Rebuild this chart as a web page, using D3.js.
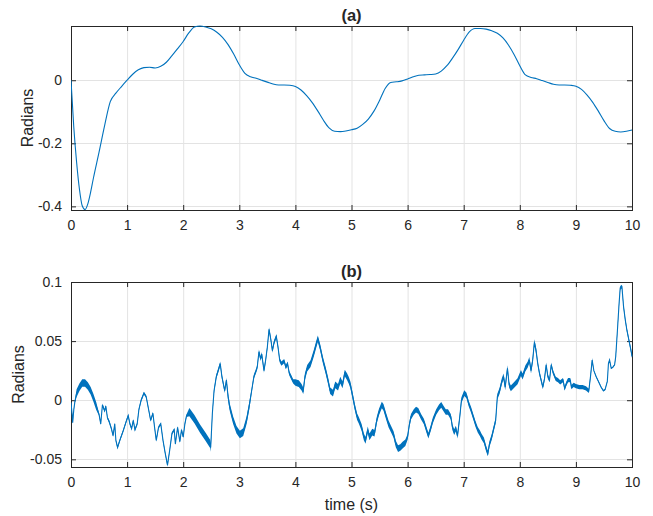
<!DOCTYPE html>
<html><head><meta charset="utf-8">
<script src="https://cdn.jsdelivr.net/npm/d3@7"></script>
<style>
html,body{margin:0;padding:0;background:#fff;}
svg text{font-family:"Liberation Sans",Arial,Helvetica,sans-serif;fill:#262626;}
</style></head>
<body><svg id="c" width="653" height="516"></svg>
<script>
// ---- data ----
const xTicks = [0,1,2,3,4,5,6,7,8,9,10];
const topYTicks = [-0.4,-0.2,0];
const topYTickLabels = ["-0.4","-0.2","0"];
const botYTicks = [-0.05,0,0.05,0.1];
const botYTickLabels = ["-0.05","0","0.05","0.1"];
const titles = ["(a)","(b)"];
const yLabel = "Radians";
const xLabel = "time (s)";

// panel (a): smooth angle
const topT = [0,0.05,0.1,0.15,0.2,0.25,0.3,0.35,0.4,0.5,0.6,0.7,0.8,0.9,1.0,1.1,1.2,1.3,1.4,1.5,1.6,1.7,1.8,1.9,2.0,2.1,2.2,2.3,2.4,2.5,2.6,2.7,2.8,2.9,3.0,3.1,3.2,3.3,3.4,3.5,3.6,3.7,3.8,3.9,4.0,4.1,4.2,4.3,4.4,4.5,4.6,4.7,4.8,4.9,5.0,5.1,5.2,5.3,5.4,5.5,5.6,5.7,5.8,5.9,6.0,6.1,6.2,6.3,6.4,6.5,6.6,6.7,6.8,6.9,7.0,7.1,7.2,7.3,7.4,7.5,7.6,7.7,7.8,7.9,8.0,8.1,8.2,8.3,8.4,8.5,8.6,8.7,8.8,8.9,9.0,9.1,9.2,9.3,9.4,9.5,9.6,9.7,9.8,9.9,10.0];
const topV = [0,-0.15,-0.26,-0.345,-0.398,-0.41,-0.392,-0.355,-0.31,-0.228,-0.143,-0.068,-0.041,-0.02,0,0.019,0.033,0.04,0.041,0.039,0.044,0.057,0.078,0.1,0.123,0.15,0.169,0.172,0.169,0.163,0.152,0.136,0.113,0.083,0.049,0.022,0.011,0.006,0,-0.006,-0.012,-0.015,-0.015,-0.016,-0.02,-0.031,-0.049,-0.071,-0.098,-0.127,-0.151,-0.162,-0.163,-0.161,-0.157,-0.152,-0.14,-0.123,-0.098,-0.064,-0.026,-0.007,-0.005,-0.002,0.004,0.011,0.016,0.017,0.018,0.02,0.029,0.046,0.07,0.097,0.127,0.153,0.164,0.164,0.162,0.157,0.149,0.134,0.111,0.081,0.046,0.017,0.009,0.005,-0.001,-0.007,-0.013,-0.015,-0.015,-0.016,-0.019,-0.029,-0.047,-0.07,-0.098,-0.128,-0.153,-0.162,-0.164,-0.162,-0.158];

// panel (b): noisy angle error
const botT = [0,0.02,0.03,0.05,0.07,0.1,0.15,0.2,0.25,0.3,0.35,0.4,0.45,0.5,0.53,0.56,0.6,0.62,0.65,0.68,0.72,0.75,0.78,0.8,0.83,0.87,0.93,0.99,1.02,1.05,1.08,1.11,1.14,1.18,1.21,1.25,1.3,1.34,1.38,1.42,1.46,1.49,1.52,1.56,1.6,1.64,1.68,1.72,1.76,1.8,1.84,1.86,1.9,1.94,1.97,2.0,2.03,2.06,2.11,2.2,2.3,2.4,2.48,2.49,2.52,2.55,2.59,2.63,2.66,2.69,2.74,2.77,2.8,2.83,2.89,2.95,3.01,3.07,3.13,3.18,3.22,3.26,3.3,3.32,3.35,3.38,3.4,3.44,3.47,3.5,3.53,3.56,3.59,3.62,3.66,3.69,3.72,3.75,3.8,3.83,3.86,3.89,3.93,3.96,4.0,4.06,4.11,4.14,4.17,4.21,4.27,4.33,4.37,4.4,4.44,4.49,4.54,4.58,4.62,4.67,4.71,4.76,4.8,4.84,4.88,4.92,4.95,4.98,5.01,5.06,5.1,5.13,5.18,5.22,5.25,5.29,5.32,5.37,5.41,5.45,5.49,5.54,5.57,5.62,5.66,5.71,5.75,5.79,5.83,5.87,5.91,5.96,6.0,6.03,6.06,6.11,6.15,6.19,6.24,6.29,6.33,6.37,6.41,6.45,6.51,6.56,6.6,6.64,6.68,6.72,6.77,6.8,6.83,6.86,6.89,6.93,6.96,7.01,7.05,7.09,7.13,7.17,7.21,7.25,7.29,7.32,7.36,7.4,7.43,7.46,7.5,7.53,7.57,7.6,7.64,7.68,7.71,7.74,7.78,7.81,7.84,7.9,7.96,8.02,8.05,8.1,8.14,8.17,8.2,8.23,8.26,8.29,8.32,8.35,8.38,8.41,8.44,8.47,8.5,8.53,8.56,8.59,8.64,8.68,8.72,8.77,8.8,8.83,8.86,8.9,8.92,8.96,9.0,9.06,9.12,9.18,9.23,9.26,9.29,9.32,9.36,9.4,9.45,9.49,9.52,9.56,9.58,9.6,9.63,9.66,9.69,9.71,9.74,9.77,9.79,9.82,9.85,9.88,9.91,9.94,9.97,9.99,10.0];
const botV = [-0.002,-0.012,-0.019,-0.008,-0.001,0.006,0.011,0.0145,0.0145,0.012,0.008,0.002,-0.005,-0.012,-0.02,-0.004,-0.009,-0.005,-0.015,-0.018,-0.024,-0.03,-0.02,-0.034,-0.04,-0.034,-0.026,-0.017,-0.013,-0.02,-0.024,-0.017,-0.025,-0.02,-0.008,0,0.006,0.003,-0.007,-0.017,-0.011,-0.023,-0.034,-0.023,-0.02,-0.034,-0.045,-0.055,-0.042,-0.028,-0.025,-0.037,-0.023,-0.035,-0.025,-0.031,-0.02,-0.013,-0.01,-0.016,-0.024,-0.031,-0.037,-0.04,-0.011,0.008,0.02,0.026,0.031,0.02,0.008,0.017,0.003,-0.006,-0.017,-0.025,-0.029,-0.027,-0.017,-0.004,0.008,0.02,0.025,0.028,0.041,0.035,0.039,0.025,0.034,0.045,0.06,0.052,0.042,0.049,0.054,0.045,0.034,0.031,0.033,0.028,0.031,0.023,0.019,0.016,0.015,0.014,0.011,0.008,0.02,0.027,0.031,0.04,0.047,0.052,0.045,0.034,0.025,0.017,0.008,0.006,0.013,0.011,0.017,0.013,0.023,0.02,0.017,0.013,0.006,-0.006,-0.014,-0.017,-0.023,-0.031,-0.034,-0.025,-0.031,-0.027,-0.028,-0.017,-0.01,-0.004,-0.006,-0.014,-0.02,-0.025,-0.029,-0.037,-0.041,-0.04,-0.038,-0.036,-0.031,-0.021,-0.014,-0.01,-0.008,-0.009,-0.014,-0.018,-0.024,-0.03,-0.024,-0.017,-0.01,-0.006,-0.004,-0.007,-0.01,-0.01,-0.014,-0.023,-0.027,-0.024,-0.03,-0.014,0,0.006,0.004,-0.003,-0.008,-0.014,-0.02,-0.025,-0.028,-0.031,-0.034,-0.041,-0.045,-0.037,-0.031,-0.025,-0.017,0.003,0.008,0.016,0.02,0.011,0.027,0.013,0.01,0.013,0.016,0.023,0.02,0.027,0.03,0.034,0.025,0.034,0.049,0.042,0.031,0.023,0.017,0.011,0.018,0.03,0.02,0.017,0.03,0.024,0.018,0.017,0.015,0.017,0.01,0.014,0.017,0.017,0.011,0.013,0.012,0.011,0.011,0.01,0.008,0.02,0.034,0.025,0.02,0.016,0.011,0.008,0.009,0.016,0.031,0.034,0.027,0.028,0.03,0.037,0.059,0.082,0.095,0.096,0.079,0.068,0.059,0.052,0.045,0.04,0.037];
// half-thickness of the fast-oscillation band, by time span
const bandStart = [0,0.08,0.5,2.08,2.5,2.8,3.2,4.0,6.0,7.6,8.3,9.3,9.7];
const bandEnd   = [0.08,0.5,2.08,2.5,2.8,3.2,4.0,6.0,7.6,8.3,9.3,9.7,10.01];
const bandAmp   = [0.001,0.0032,0.0012,0.0035,0.0018,0.0032,0.0018,0.0028,0.0024,0.0025,0.0018,0.0006,0.0016];

// ---- drawing ----
const svg = d3.select("#c");
const L = 71, R = 632;
const lineColor = "#0072BD";
const x = d3.scaleLinear().domain([0,10]).range([L,R]);

function panel(top, bottom, yDomain, yTicks, yLabels, title, titleY, yLabX) {
  const y = d3.scaleLinear().domain(yDomain).range([bottom, top]);
  const g = svg.append("g");
  g.append("g").selectAll("line").data(xTicks.slice(1,-1)).join("line")
    .attr("x1", d=>x(d)+0.5).attr("x2", d=>x(d)+0.5).attr("y1", top).attr("y2", bottom)
    .attr("stroke","#e3e3e3").attr("stroke-width",1);
  g.append("g").selectAll("line").data(yTicks).join("line")
    .attr("x1", L).attr("x2", R).attr("y1", d=>Math.round(y(d))+0.5).attr("y2", d=>Math.round(y(d))+0.5)
    .attr("stroke","#e3e3e3").attr("stroke-width",1);
  const axB = d3.axisBottom(x).tickValues(xTicks).tickSize(-5).tickPadding(10).tickFormat(d3.format("d"));
  const axT = d3.axisTop(x).tickValues(xTicks).tickSize(-5).tickFormat("");
  const axL = d3.axisLeft(y).tickValues(yTicks).tickSize(-5).tickPadding(9).tickFormat((d,i)=>yLabels[i]);
  const axR = d3.axisRight(y).tickValues(yTicks).tickSize(-5).tickFormat("");
  const styleAx = s => { s.select(".domain").remove(); s.selectAll("line").attr("stroke","#262626");
    s.selectAll("text").attr("fill","#262626").style("font-size","14px").style("font-family","'Liberation Sans',Arial,sans-serif"); };
  g.append("g").attr("transform",`translate(0,${bottom})`).call(axB).call(styleAx);
  g.append("g").attr("transform",`translate(0,${top})`).call(axT).call(styleAx);
  g.append("g").attr("transform",`translate(${L},0)`).call(axL).call(styleAx);
  g.append("g").attr("transform",`translate(${R},0)`).call(axR).call(styleAx);
  g.append("rect").attr("x",L+0.5).attr("y",top+0.5).attr("width",R-L).attr("height",bottom-top)
    .attr("fill","none").attr("stroke","#262626").attr("stroke-width",1);
  g.append("text").attr("x",(L+R)/2).attr("y",titleY).attr("text-anchor","middle")
    .style("font-size","16.5px").style("font-weight","bold").text(title);
  g.append("text").attr("transform",`translate(${yLabX},${(top+bottom)/2}) rotate(-90)`)
    .attr("text-anchor","middle").style("font-size","16px").text(yLabel);
  return {y, g, top, bottom};
}

const pa = panel(26, 210, [-0.4115, 0.172], topYTicks, topYTickLabels, titles[0], 21, 33);
svg.append("clipPath").attr("id","ca").append("rect").attr("x",L).attr("y",25).attr("width",R-L+1).attr("height",186);
const topData = topT.map((t,i)=>({t, v:topV[i]}));
pa.g.append("path").datum(topData).attr("clip-path","url(#ca)")
  .attr("d", d3.line().x(d=>x(d.t)).y(d=>pa.y(d.v)).curve(d3.curveMonotoneX))
  .attr("fill","none").attr("stroke",lineColor).attr("stroke-width",1.1);

const pb = panel(282, 467, [-0.0565, 0.1], botYTicks, botYTickLabels, titles[1], 277, 24);
svg.append("clipPath").attr("id","cb").append("rect").attr("x",L).attr("y",281).attr("width",R-L+1).attr("height",187);
function ampAt(t){ for(let i=0;i<bandStart.length;i++){ if(t>=bandStart[i] && t<bandEnd[i]) return bandAmp[i]; } return 0.001; }
const botData = botT.map((t,i)=>({t, v:botV[i], a:ampAt(t)}));
pb.g.append("path").datum(botData).attr("clip-path","url(#cb)")
  .attr("d", d3.area().x(d=>x(d.t)).y0(d=>pb.y(d.v-d.a)).y1(d=>pb.y(d.v+d.a)))
  .attr("fill",lineColor).attr("stroke","none");
pb.g.append("path").datum(botData).attr("clip-path","url(#cb)")
  .attr("d", d3.line().x(d=>x(d.t)).y(d=>pb.y(d.v)))
  .attr("fill","none").attr("stroke",lineColor).attr("stroke-width",1.1);

svg.append("text").attr("x",(L+R)/2).attr("y",510).attr("text-anchor","middle")
  .style("font-size","16px").text(xLabel);
</script></body></html>
